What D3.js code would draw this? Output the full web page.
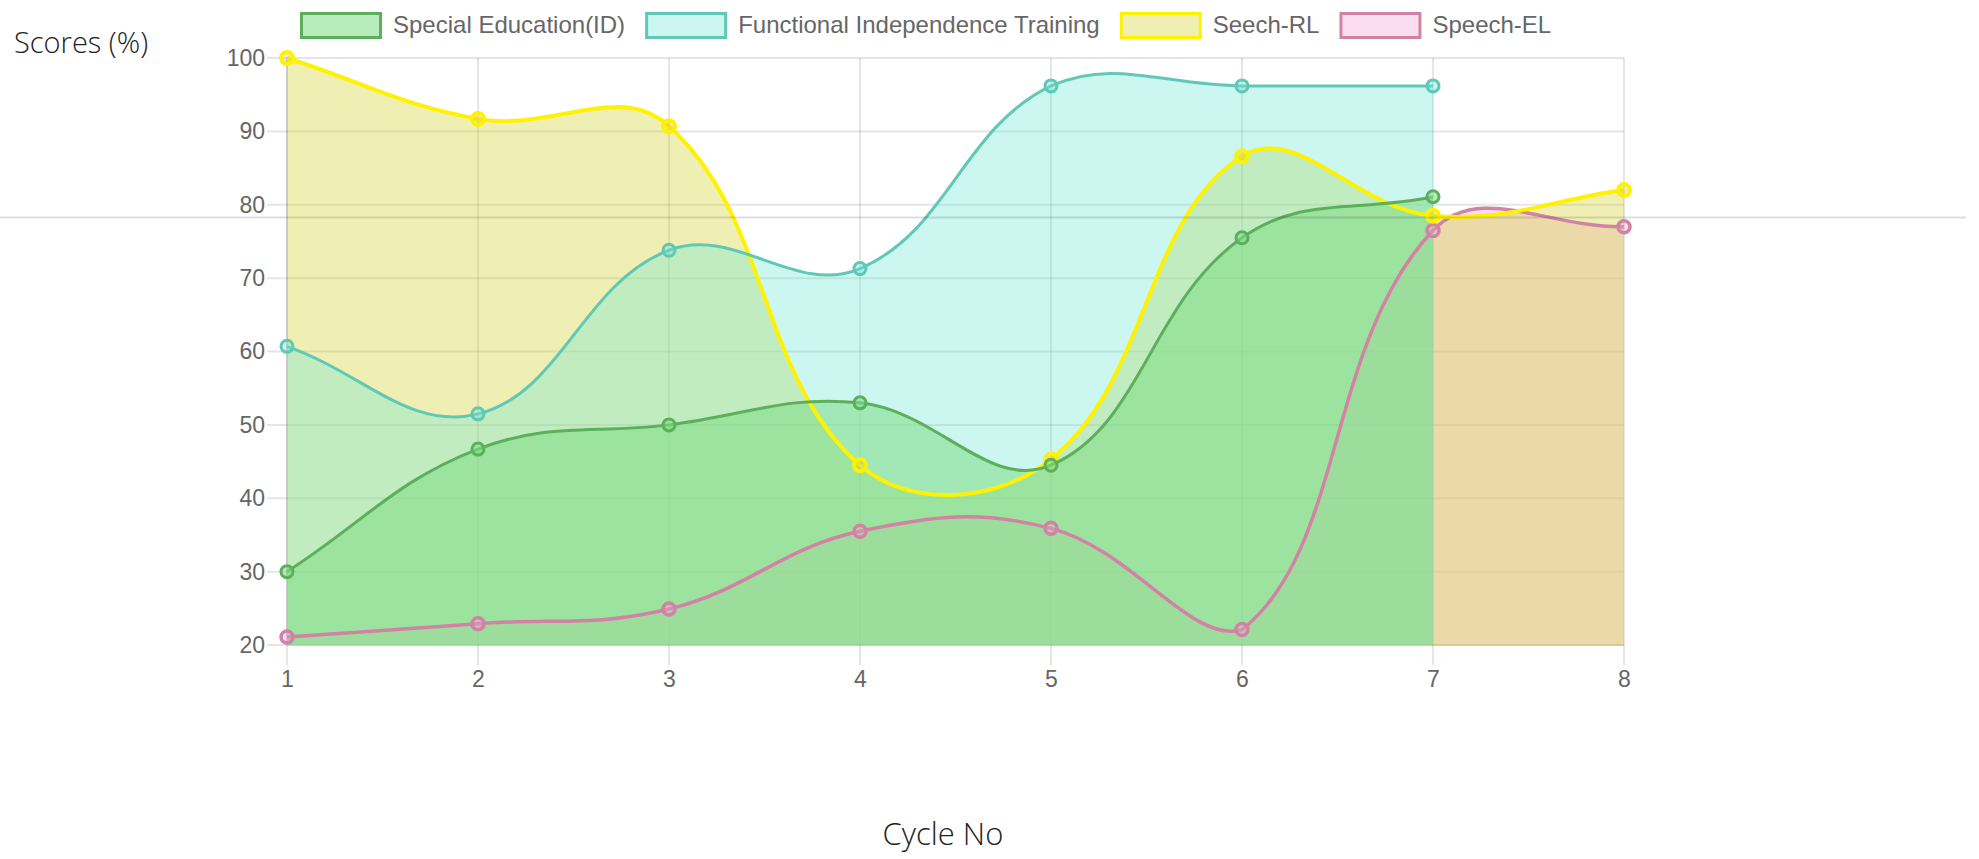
<!DOCTYPE html>
<html>
<head>
<meta charset="utf-8">
<script src="https://cdn.jsdelivr.net/npm/d3@7"></script>
<style>
  html, body { margin: 0; padding: 0; background: #fff; }
  svg { display: block; }
</style>
</head>
<body>
<div id="chart"></div>
<script>
// Data
const cycles = [1, 2, 3, 4, 5, 6, 7, 8];
const yTicks = [20, 30, 40, 50, 60, 70, 80, 90, 100];
const seriesNames = ['Special Education(ID)', 'Functional Independence Training', 'Seech-RL', 'Speech-EL'];
const specialEd = [30, 46.7, 50, 53, 44.5, 75.5, 81.1];
const functionalTraining = [60.7, 51.5, 73.8, 71.3, 96.2, 96.2, 96.2];
const seechRL = [100, 91.7, 90.7, 44.5, 45.3, 86.6, 78.5, 82];
const speechEL = [21.1, 22.9, 24.9, 35.5, 35.9, 22.1, 76.5, 77];

const width = 1979;
const height = 859;
const margin = { top: 58, right: 355, bottom: 214, left: 287 };

const series = [
    { name: seriesNames[0], values: specialEd, line: 'rgb(92,176,92)', fill: 'rgba(128,220,133,0.55)', lw: 3 },
    { name: seriesNames[1], values: functionalTraining, line: 'rgb(96,200,182)', fill: 'rgba(110,232,215,0.35)', lw: 3 },
    { name: seriesNames[2], values: seechRL, line: 'rgb(255,242,0)', fill: 'rgba(210,210,40,0.35)', lw: 4 },
    { name: seriesNames[3], values: speechEL, line: 'rgb(210,130,165)', fill: 'rgba(240,160,210,0.35)', lw: 3.5 }
];

const svg = d3.select('#chart').append('svg')
    .attr('width', width)
    .attr('height', height);

const x = d3.scaleLinear().domain([1, 8]).range([margin.left, width - margin.right]);
const y = d3.scaleLinear().domain([20, 100]).range([height - margin.bottom, margin.top]);

// Chart.js-style spline (tension 0.4, distance weighted, control points capped to the plot)
function chartSpline(context) {
    const T = 0.4;
    const [x0, x1] = x.range();
    const [yb, yt] = y.range();
    const clamp = (v, a, b) => Math.max(a, Math.min(b, v));
    let pts = [], line = NaN;
    return {
        areaStart() { line = 0; },
        areaEnd() { line = NaN; },
        lineStart() { pts = []; },
        point(px, py) { pts.push([+px, +py]); },
        lineEnd() {
            const n = pts.length;
            if (n) {
                if (line) context.lineTo(pts[0][0], pts[0][1]);
                else context.moveTo(pts[0][0], pts[0][1]);
                const cp = pts.map((p, i) => {
                    const a = pts[i > 0 ? i - 1 : i];
                    const b = pts[i < n - 1 ? i + 1 : i];
                    const d01 = Math.hypot(p[0] - a[0], p[1] - a[1]);
                    const d12 = Math.hypot(b[0] - p[0], b[1] - p[1]);
                    const s = (d01 + d12) || 1;
                    const fa = T * d01 / s, fb = T * d12 / s;
                    const c1 = [p[0] - fa * (b[0] - a[0]), p[1] - fa * (b[1] - a[1])];
                    const c2 = [p[0] + fb * (b[0] - a[0]), p[1] + fb * (b[1] - a[1])];
                    return [c1, c2].map(c => [clamp(c[0], x0, x1), clamp(c[1], yt, yb)]);
                });
                for (let i = 1; i < n; i++) {
                    context.bezierCurveTo(cp[i - 1][1][0], cp[i - 1][1][1], cp[i][0][0], cp[i][0][1], pts[i][0], pts[i][1]);
                }
            }
            if (line || (line !== 0 && n === 1)) context.closePath();
            line = 1 - line;
        }
    };
}

// Grid
const grid = svg.append('g').attr('stroke', 'rgba(0,0,0,0.1)').attr('stroke-width', 2);
grid.selectAll('.gy').data(yTicks).join('line')
    .attr('x1', x(1) - 20).attr('x2', x(8))
    .attr('y1', d => y(d)).attr('y2', d => y(d));
grid.selectAll('.gx').data(cycles).join('line')
    .attr('x1', d => x(d)).attr('x2', d => x(d))
    .attr('y1', y(100)).attr('y2', y(20) + 20);
grid.append('line').attr('x1', x(1)).attr('x2', x(1)).attr('y1', y(100)).attr('y2', y(20));
grid.append('line').attr('x1', x(1)).attr('x2', x(8)).attr('y1', y(20)).attr('y2', y(20));

// Axes labels (ticks)
const yAxis = d3.axisLeft(y).tickValues(yTicks).tickSize(0).tickPadding(22);
const xAxis = d3.axisBottom(x).tickValues(cycles).tickSize(0).tickPadding(26).tickFormat(d3.format('d'));
svg.append('g').attr('transform', `translate(${x(1)},0)`).call(yAxis)
    .call(g => g.select('.domain').remove())
    .selectAll('text').attr('fill', '#666').attr('font-size', 23).attr('font-family', 'Liberation Sans, Arial, sans-serif');
svg.append('g').attr('transform', `translate(0,${y(20)})`).call(xAxis)
    .call(g => g.select('.domain').remove())
    .selectAll('text').attr('fill', '#666').attr('font-size', 23).attr('font-family', 'Liberation Sans, Arial, sans-serif');

const area = d3.area()
    .x((d, i) => x(cycles[i]))
    .y0(y(20))
    .y1(d => y(d))
    .curve(chartSpline);
const line = d3.line()
    .x((d, i) => x(cycles[i]))
    .y(d => y(d))
    .curve(chartSpline);

// Chart.js paints the last dataset first; fills go under all lines
const order = series.slice().reverse();
svg.append('g').selectAll('path').data(order).join('path')
    .attr('d', s => area(s.values))
    .attr('fill', s => s.fill);

order.forEach(s => {
    const g = svg.append('g');
    g.append('path')
        .attr('d', line(s.values))
        .attr('fill', 'none')
        .attr('stroke', s.line)
        .attr('stroke-width', s.lw);
    g.selectAll('circle').data(s.values).join('circle')
        .attr('cx', (d, i) => x(cycles[i]))
        .attr('cy', d => y(d))
        .attr('r', 6)
        .attr('fill', s.fill)
        .attr('stroke', s.line)
        .attr('stroke-width', s.lw);
});

// Legend
const legend = svg.append('g').attr('font-family', 'Liberation Sans, Arial, sans-serif').attr('font-size', 24).attr('fill', '#666');
let lx = 300;
series.forEach(s => {
    legend.append('rect')
        .attr('x', lx + 1.5).attr('y', 13.5)
        .attr('width', 79).attr('height', 24)
        .attr('fill', s.fill)
        .attr('stroke', s.line)
        .attr('stroke-width', 3);
    const t = legend.append('text')
        .attr('x', lx + 93).attr('y', 25)
        .attr('dy', '0.35em')
        .text(s.name);
    lx += 93 + t.node().getComputedTextLength() + 20;
});

// Page titles outside the canvas
svg.append('text')
    .attr('x', 14).attr('y', 43).attr('dy', '0.35em')
    .attr('font-family', 'Open Sans, Noto Sans, sans-serif').attr('font-weight', 300)
    .attr('font-size', 29).attr('fill', '#222')
    .text('Scores (%)');
svg.append('text')
    .attr('x', 943).attr('y', 834).attr('dy', '0.35em')
    .attr('text-anchor', 'middle')
    .attr('font-family', 'Open Sans, Noto Sans, sans-serif').attr('font-weight', 300)
    .attr('font-size', 31).attr('fill', '#222')
    .text('Cycle No');

// Thin rule across the page
svg.append('line')
    .attr('x1', 0).attr('x2', 1966)
    .attr('y1', 217.5).attr('y2', 217.5)
    .attr('stroke', 'rgba(0,0,0,0.13)')
    .attr('stroke-width', 2);
</script>
</body>
</html>
